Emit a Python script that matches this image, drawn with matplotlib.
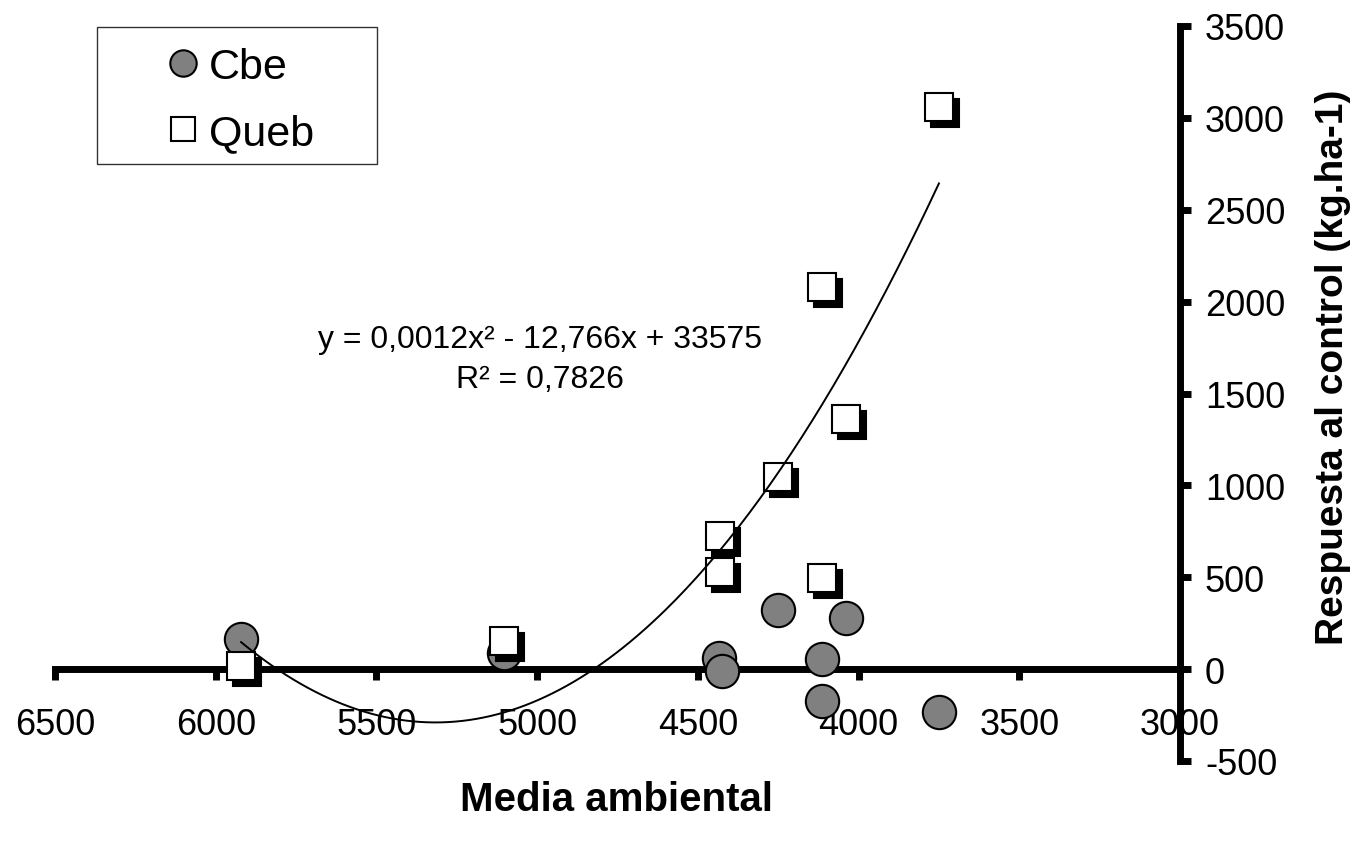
import numpy as np
import matplotlib
matplotlib.use("Agg")
import matplotlib.pyplot as plt
import matplotlib.transforms as mtransforms
from matplotlib.lines import Line2D
from matplotlib.patches import Rectangle

# ==========================
# DATOS
# ==========================

cbe_x = [5921, 5103, 4434, 4425, 4250, 4114, 4114, 4039, 3750]
cbe_y = [163, 87, 60, -11, 321, 54, -174, 278, -234]

queb_x = [5921, 5103, 4430, 4430, 4250, 4114, 4114, 4039, 3750]
queb_y = [16, 152, 528, 724, 1045, 2080, 495, 1361, 3059]

x_ticks = [6500, 6000, 5500, 5000, 4500, 4000, 3500, 3000]
y_ticks = [-500, 0, 500, 1000, 1500, 2000, 2500, 3000, 3500]

eq_text = "y = 0,0012x² - 12,766x + 33575\nR² = 0,7826"

plt.rcParams["font.family"] = ["Liberation Sans", "DejaVu Sans"]

# ==========================
# FIGURA
# ==========================

fig = plt.figure(figsize=(13.53, 8.45), dpi=100)
ax = fig.add_axes([55 / 1353, 1 - 762 / 845, 1125 / 1353, 735 / 845])

ax.set_xlim(6500, 3000)
ax.set_ylim(-500, 3500)

# circulos (Cbe)
ax.plot(cbe_x, cbe_y, linestyle="none", marker="o", markersize=24,
        markerfacecolor="#808080", markeredgecolor="black",
        markeredgewidth=1.5, clip_on=False, zorder=3)

# cuadrados con sombra (Queb)
shadow = mtransforms.offset_copy(ax.transData, fig=fig, x=6, y=-6, units="dots")
ax.plot(queb_x, queb_y, linestyle="none", marker="s", markersize=20,
        markerfacecolor="black", markeredgecolor="black",
        markeredgewidth=1.5, transform=shadow, clip_on=False, zorder=4)
ax.plot(queb_x, queb_y, linestyle="none", marker="s", markersize=20,
        markerfacecolor="white", markeredgecolor="black",
        markeredgewidth=1.5, clip_on=False, zorder=5)

# linea de tendencia polinomica (orden 2) sobre Queb
coef = np.polyfit(queb_x, queb_y, 2)
xs = np.linspace(min(queb_x), max(queb_x), 200)
ax.plot(xs, np.polyval(coef, xs), color="black", linewidth=1.4, zorder=6)

fig.text(540 / 1353, 1 - 360 / 845, eq_text, ha="center", va="center",
         fontsize=23, linespacing=1.45)

# ==========================
# EJES
# ==========================

ax.spines["top"].set_visible(False)
ax.spines["left"].set_visible(False)
ax.spines["bottom"].set_position(("data", 0))
ax.spines["bottom"].set_linewidth(5)
ax.spines["right"].set_linewidth(5)

ax.yaxis.tick_right()
ax.set_xticks(x_ticks)
ax.set_yticks(y_ticks)
ax.set_xticklabels([str(v) for v in x_ticks])
ax.set_yticklabels([str(v) for v in y_ticks])
ax.tick_params(axis="x", direction="out", length=8, width=5, pad=19,
               labelsize=26)
ax.tick_params(axis="y", direction="out", length=8, width=5, pad=10,
               labelsize=26)

fig.text(617 / 1353, 1 - 800 / 845, "Media ambiental", ha="center",
         va="center", fontsize=29, fontweight="bold")
fig.text(1333 / 1353, 1 - 367 / 845, "Respuesta al control (kg.ha-1)",
         ha="center", va="center", rotation=90, fontsize=28,
         fontweight="bold")

# ==========================
# LEYENDA
# ==========================

fig.patches.append(Rectangle((97 / 1353, 1 - 165 / 845), 280 / 1353,
                             137 / 845, transform=fig.transFigure,
                             facecolor="white", edgecolor="#333333",
                             linewidth=1, zorder=0))

handles = [
    Line2D([], [], linestyle="none", marker="o", markersize=19,
           markerfacecolor="#808080", markeredgecolor="black",
           markeredgewidth=1.5),
    Line2D([], [], linestyle="none", marker="s", markersize=17,
           markerfacecolor="white", markeredgecolor="black",
           markeredgewidth=1.5),
]
fig.legend(handles, ["Cbe", "Queb"], loc="upper left",
           bbox_to_anchor=(166 / 1353, 1 - 48 / 845), frameon=False,
           fontsize=31, handlelength=0.8, handletextpad=0.2,
           borderpad=0, borderaxespad=0, labelspacing=0.6)

fig.savefig("out.png", dpi=100)
